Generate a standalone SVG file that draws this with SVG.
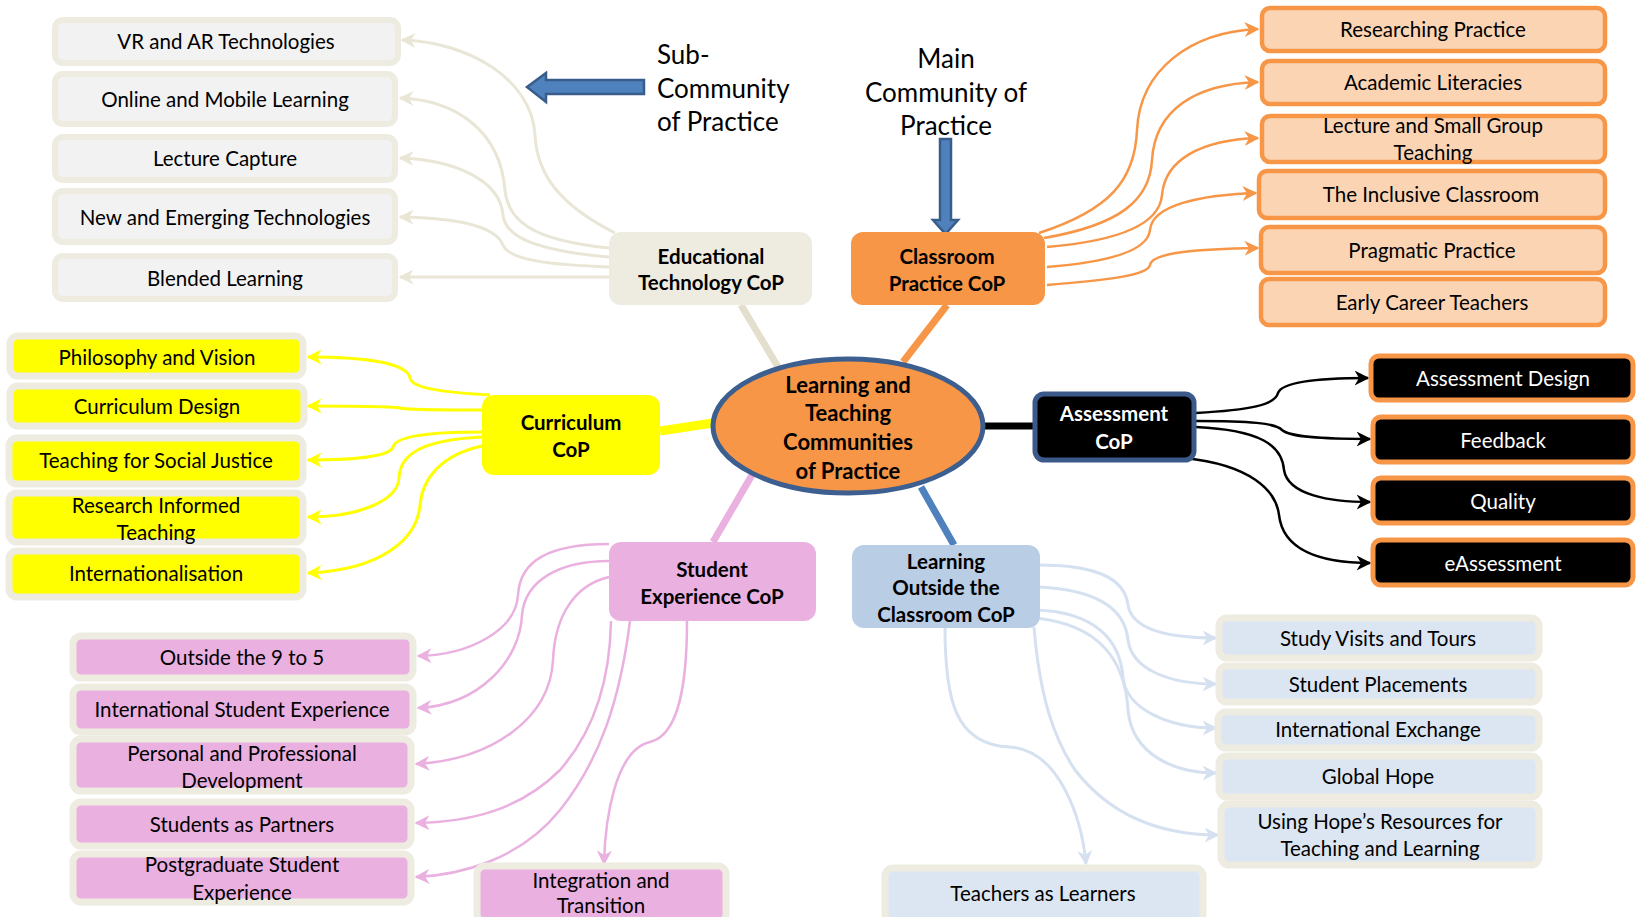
<svg xmlns="http://www.w3.org/2000/svg" width="1637" height="917" viewBox="0 0 1637 917">
<defs>
<style>
text{font-family:Lato,"Liberation Sans",sans-serif;text-anchor:middle;dominant-baseline:central;fill:#000}
.c{font-size:20.5px}
.b{font-size:20.5px;font-weight:bold}
.bc{font-size:22px;font-weight:bold}
.w{fill:#fff}
.big{font-size:26px}
.gbox{fill:#f2f2f2;stroke:#eeece1;stroke-width:6}
.obox{fill:#fbd4b4;stroke:#f79646;stroke-width:4.5}
.ybox{fill:#ffff00;stroke:#eeece1;stroke-width:7}
.pbox{fill:#eab0e0;stroke:#eeece1;stroke-width:7}
.lbox{fill:#dce6f2;stroke:#eeece1;stroke-width:7}
.abox{fill:#000;stroke:#f79646;stroke-width:5}
.cn{fill:none}
.eg{stroke:#e9e6d6;stroke-width:3}
.eo{stroke:#f79646;stroke-width:2.5}
.ek{stroke:#000;stroke-width:2.5}
.ey{stroke:#ffff00;stroke-width:3}
.ep{stroke:#eab0e0;stroke-width:2.5}
.el{stroke:#d5e1f0;stroke-width:3}
</style>
<marker id="mg" viewBox="0 0 10 10" refX="9" refY="5" markerUnits="userSpaceOnUse" markerWidth="15" markerHeight="15" orient="auto"><path d="M0,0 L10,5 L0,10 L3,5 z" fill="#e9e6d6"/></marker>
<marker id="mo" viewBox="0 0 10 10" refX="9" refY="5" markerUnits="userSpaceOnUse" markerWidth="15" markerHeight="15" orient="auto"><path d="M0,0 L10,5 L0,10 L3,5 z" fill="#f79646"/></marker>
<marker id="mk" viewBox="0 0 10 10" refX="9" refY="5" markerUnits="userSpaceOnUse" markerWidth="15" markerHeight="15" orient="auto"><path d="M0,0 L10,5 L0,10 L3,5 z" fill="#000"/></marker>
<marker id="my" viewBox="0 0 10 10" refX="9" refY="5" markerUnits="userSpaceOnUse" markerWidth="15" markerHeight="15" orient="auto"><path d="M0,0 L10,5 L0,10 L3,5 z" fill="#ffff00"/></marker>
<marker id="mp" viewBox="0 0 10 10" refX="9" refY="5" markerUnits="userSpaceOnUse" markerWidth="15" markerHeight="15" orient="auto"><path d="M0,0 L10,5 L0,10 L3,5 z" fill="#eab0e0"/></marker>
<marker id="ml" viewBox="0 0 10 10" refX="9" refY="5" markerUnits="userSpaceOnUse" markerWidth="15" markerHeight="15" orient="auto"><path d="M0,0 L10,5 L0,10 L3,5 z" fill="#d5e1f0"/></marker>
</defs>
<rect width="1637" height="917" fill="#fff"/>

<g id="connectors">
<!-- spokes -->
<path d="M778 367 L741 305" stroke="#e3dfcc" stroke-width="7"/>
<path d="M903 362 L947 305" stroke="#f79646" stroke-width="7"/>
<path d="M660 431 L713 423" stroke="#ffff00" stroke-width="9"/>
<path d="M983 426 L1034 426" stroke="#000" stroke-width="7"/>
<path d="M752 475 L713 542" stroke="#eab0e0" stroke-width="7"/>
<path d="M921 487 L954 545" stroke="#4f81bd" stroke-width="7"/>
<!-- educational technology -->
<path class="cn eg" marker-end="url(#mg)" d="M615 233 C560 205 537 175 535 135 C532 80 470 42 402 40"/>
<path class="cn eg" marker-end="url(#mg)" d="M609 248 C530 240 508 220 505 190 C500 130 455 100 400 98"/>
<path class="cn eg" marker-end="url(#mg)" d="M609 257 C530 250 505 235 503 215 C500 180 455 160 400 158"/>
<path class="cn eg" marker-end="url(#mg)" d="M609 267 C560 265 510 262 503 245 C495 225 455 218 400 217"/>
<path class="cn eg" marker-end="url(#mg)" d="M609 277 L400 277"/>
<!-- classroom -->
<path class="cn eo" marker-end="url(#mo)" d="M1039 233 C1110 210 1135 180 1137 130 C1140 70 1190 32 1258 29"/>
<path class="cn eo" marker-end="url(#mo)" d="M1044 238 C1120 225 1150 200 1152 160 C1155 110 1195 84 1258 82"/>
<path class="cn eo" marker-end="url(#mo)" d="M1047 247 C1130 240 1160 220 1162 195 C1165 160 1200 140 1258 138"/>
<path class="cn eo" marker-end="url(#mo)" d="M1047 267 C1110 262 1148 250 1150 230 C1152 205 1200 195 1256 193"/>
<path class="cn eo" marker-end="url(#mo)" d="M1047 285 C1110 280 1148 275 1150 265 C1152 252 1200 249 1258 248"/>
<!-- assessment -->
<path class="cn ek" marker-end="url(#mk)" d="M1196 413 C1250 410 1275 405 1278 393 C1282 382 1320 378 1368 378"/>
<path class="cn ek" marker-end="url(#mk)" d="M1196 421 C1250 421 1275 423 1282 430 C1290 437 1320 439 1370 439"/>
<path class="cn ek" marker-end="url(#mk)" d="M1196 427 C1260 430 1282 445 1284 470 C1288 495 1330 502 1370 502"/>
<path class="cn ek" marker-end="url(#mk)" d="M1185 458 C1250 465 1276 490 1279 515 C1283 550 1320 563 1370 563"/>
<!-- curriculum -->
<path class="cn ey" marker-end="url(#my)" d="M490 395 C440 392 412 388 410 378 C407 362 360 357 308 357"/>
<path class="cn ey" marker-end="url(#my)" d="M482 410 C440 410 408 410 400 408 C390 406 360 406 308 406"/>
<path class="cn ey" marker-end="url(#my)" d="M482 432 C420 432 395 438 393 447 C390 457 350 460 308 460"/>
<path class="cn ey" marker-end="url(#my)" d="M482 437 C420 440 400 455 399 478 C398 500 360 517 308 517"/>
<path class="cn ey" marker-end="url(#my)" d="M482 446 C440 455 422 480 420 505 C417 540 380 570 308 573"/>
<!-- student experience -->
<path class="cn ep" marker-end="url(#mp)" d="M609 544 C550 544 520 560 518 595 C516 630 470 655 418 656"/>
<path class="cn ep" marker-end="url(#mp)" d="M609 561 C560 561 525 580 522 615 C520 660 480 705 418 708"/>
<path class="cn ep" marker-end="url(#mp)" d="M609 577 C575 585 555 615 553 660 C550 720 490 760 416 764"/>
<path class="cn ep" marker-end="url(#mp)" d="M611 621 C610 680 595 730 560 770 C520 810 470 822 416 823"/>
<path class="cn ep" marker-end="url(#mp)" d="M630 621 C620 700 600 760 560 810 C520 860 460 875 416 877"/>
<path class="cn ep" marker-end="url(#mp)" d="M687 621 C687 680 680 735 650 742 C615 750 605 820 604 864"/>
<!-- learning outside the classroom -->
<path class="cn el" marker-end="url(#ml)" d="M1039 565 C1100 565 1125 580 1128 605 C1132 630 1170 638 1216 638"/>
<path class="cn el" marker-end="url(#ml)" d="M1039 587 C1100 590 1125 610 1128 640 C1132 670 1170 684 1216 684"/>
<path class="cn el" marker-end="url(#ml)" d="M1036 610 C1095 612 1120 640 1123 677 C1126 710 1170 728 1216 728"/>
<path class="cn el" marker-end="url(#ml)" d="M1036 618 C1100 625 1125 660 1128 710 C1132 755 1175 773 1216 773"/>
<path class="cn el" marker-end="url(#ml)" d="M1034 627 C1040 700 1055 740 1075 770 C1110 815 1160 835 1218 835"/>
<path class="cn el" marker-end="url(#ml)" d="M945 627 C945 700 955 745 1010 747 C1060 750 1082 820 1086 864"/>
</g>

<!-- annotations -->
<g id="sub-label">
<path d="M527 87 L546 73 L546 80 L644 80 L644 94 L546 94 L546 102 Z" fill="#4f81bd" stroke="#385d8a" stroke-width="2.5"/>
<text class="big" x="657" y="54" style="text-anchor:start">Sub-</text>
<text class="big" x="657" y="88" style="text-anchor:start">Community</text>
<text class="big" x="657" y="121" style="text-anchor:start">of Practice</text>
</g>
<g id="main-label">
<text class="big" x="946" y="58">Main</text>
<text class="big" x="946" y="92">Community of</text>
<text class="big" x="946" y="125">Practice</text>
<path d="M940 139 L951 139 L951 220 L958 220 L945.5 234 L933 220 L940 220 Z" fill="#4f81bd" stroke="#385d8a" stroke-width="2.5"/>
</g>

<g id="center">
<ellipse cx="848" cy="426" rx="135" ry="67" fill="#f79646" stroke="#3d5f8f" stroke-width="5"/>
<text class="bc" x="848" y="384">Learning and</text>
<text class="bc" x="848" y="412">Teaching</text>
<text class="bc" x="848" y="441">Communities</text>
<text class="bc" x="848" y="470">of Practice</text>
</g>

<g id="edtech-cop">
<rect x="609" y="232" width="203" height="73" rx="12" fill="#eeece1"/>
<text class="b" x="711" y="256">Educational</text>
<text class="b" x="711" y="282">Technology CoP</text>
</g>
<g id="classroom-cop">
<rect x="851" y="232" width="194" height="73" rx="12" fill="#f79646"/>
<text class="b" x="947" y="256">Classroom</text>
<text class="b" x="947" y="283">Practice CoP</text>
</g>
<g id="curriculum-cop">
<rect x="482" y="395" width="178" height="80" rx="12" fill="#ffff00"/>
<text class="b" x="571" y="422">Curriculum</text>
<text class="b" x="571" y="449">CoP</text>
</g>
<g id="assessment-cop">
<rect x="1035" y="394" width="159" height="66" rx="9" fill="#000" stroke="#3b5a8a" stroke-width="5"/>
<text class="b w" x="1114" y="413">Assessment</text>
<text class="b w" x="1114" y="441">CoP</text>
</g>
<g id="student-cop">
<rect x="609" y="542" width="207" height="79" rx="12" fill="#eab0e0"/>
<text class="b" x="712" y="569">Student</text>
<text class="b" x="712" y="596">Experience CoP</text>
</g>
<g id="loc-cop">
<rect x="852" y="545" width="188" height="83" rx="12" fill="#b9cde5"/>
<text class="b" x="946" y="561">Learning</text>
<text class="b" x="946" y="587">Outside the</text>
<text class="b" x="946" y="614">Classroom CoP</text>
</g>

<!-- educational technology children -->
<g id="vr"><rect class="gbox" x="55" y="20" width="343" height="43" rx="8"/><text class="c" x="226" y="41">VR and AR Technologies</text></g>
<g id="online"><rect class="gbox" x="55" y="74" width="340" height="50" rx="8"/><text class="c" x="225" y="99">Online and Mobile Learning</text></g>
<g id="lecture-capture"><rect class="gbox" x="55" y="137" width="340" height="43" rx="8"/><text class="c" x="225" y="158">Lecture Capture</text></g>
<g id="new-emerging"><rect class="gbox" x="55" y="191" width="340" height="51" rx="8"/><text class="c" x="225" y="217">New and Emerging Technologies</text></g>
<g id="blended"><rect class="gbox" x="55" y="256" width="340" height="43" rx="8"/><text class="c" x="225" y="278">Blended Learning</text></g>

<!-- classroom children -->
<g id="researching"><rect class="obox" x="1262" y="8" width="343" height="43" rx="8"/><text class="c" x="1433" y="29">Researching Practice</text></g>
<g id="academic"><rect class="obox" x="1262" y="61" width="343" height="43" rx="8"/><text class="c" x="1433" y="82">Academic Literacies</text></g>
<g id="lecture-small"><rect class="obox" x="1262" y="116" width="343" height="46" rx="8"/><text class="c" x="1433" y="125">Lecture and Small Group</text><text class="c" x="1433" y="152">Teaching</text></g>
<g id="inclusive"><rect class="obox" x="1259" y="171" width="346" height="47" rx="8"/><text class="c" x="1431" y="194">The Inclusive Classroom</text></g>
<g id="pragmatic"><rect class="obox" x="1261" y="227" width="344" height="46" rx="8"/><text class="c" x="1432" y="250">Pragmatic Practice</text></g>
<g id="early-career"><rect class="obox" x="1261" y="279" width="344" height="46" rx="8"/><text class="c" x="1432" y="302">Early Career Teachers</text></g>

<!-- curriculum children -->
<g id="philosophy"><rect class="ybox" x="10" y="336" width="293" height="40" rx="8"/><text class="c" x="157" y="357">Philosophy and Vision</text></g>
<g id="curriculum-design"><rect class="ybox" x="10" y="386" width="294" height="40" rx="8"/><text class="c" x="157" y="406">Curriculum Design</text></g>
<g id="social-justice"><rect class="ybox" x="9" y="438" width="294" height="46" rx="8"/><text class="c" x="156" y="460">Teaching for Social Justice</text></g>
<g id="research-informed"><rect class="ybox" x="9" y="493" width="294" height="49" rx="8"/><text class="c" x="156" y="505">Research Informed</text><text class="c" x="156" y="532">Teaching</text></g>
<g id="internationalisation"><rect class="ybox" x="9" y="551" width="294" height="46" rx="8"/><text class="c" x="156" y="573">Internationalisation</text></g>

<!-- assessment children -->
<g id="assessment-design"><rect class="abox" x="1371" y="356" width="262" height="44" rx="8"/><text class="c w" x="1503" y="378">Assessment Design</text></g>
<g id="feedback"><rect class="abox" x="1373" y="417" width="260" height="45" rx="8"/><text class="c w" x="1503" y="440">Feedback</text></g>
<g id="quality"><rect class="abox" x="1373" y="478" width="260" height="45" rx="8"/><text class="c w" x="1503" y="501">Quality</text></g>
<g id="eassessment"><rect class="abox" x="1373" y="540" width="260" height="45" rx="8"/><text class="c w" x="1503" y="563">eAssessment</text></g>

<!-- student experience children -->
<g id="outside-9-5"><rect class="pbox" x="73" y="636" width="340" height="42" rx="8"/><text class="c" x="242" y="657">Outside the 9 to 5</text></g>
<g id="international-student"><rect class="pbox" x="73" y="687" width="340" height="45" rx="8"/><text class="c" x="242" y="709">International Student Experience</text></g>
<g id="personal-professional"><rect class="pbox" x="73" y="739" width="338" height="52" rx="8"/><text class="c" x="242" y="753">Personal and Professional</text><text class="c" x="242" y="780">Development</text></g>
<g id="partners"><rect class="pbox" x="73" y="802" width="338" height="44" rx="8"/><text class="c" x="242" y="824">Students as Partners</text></g>
<g id="postgraduate"><rect class="pbox" x="73" y="854" width="338" height="48" rx="8"/><text class="c" x="242" y="864">Postgraduate Student</text><text class="c" x="242" y="892">Experience</text></g>
<g id="integration"><rect class="pbox" x="477" y="866" width="249" height="56" rx="8"/><text class="c" x="601" y="880">Integration and</text><text class="c" x="601" y="905">Transition</text></g>

<!-- learning outside the classroom children -->
<g id="study-visits"><rect class="lbox" x="1219" y="618" width="320" height="40" rx="8"/><text class="c" x="1378" y="638">Study Visits and Tours</text></g>
<g id="placements"><rect class="lbox" x="1219" y="666" width="320" height="36" rx="8"/><text class="c" x="1378" y="684">Student Placements</text></g>
<g id="exchange"><rect class="lbox" x="1218" y="712" width="321" height="36" rx="8"/><text class="c" x="1378" y="729">International Exchange</text></g>
<g id="global-hope"><rect class="lbox" x="1219" y="756" width="320" height="41" rx="8"/><text class="c" x="1378" y="776">Global Hope</text></g>
<g id="hopes-resources"><rect class="lbox" x="1221" y="804" width="318" height="61" rx="8"/><text class="c" x="1380" y="821">Using Hope’s Resources for</text><text class="c" x="1380" y="848">Teaching and Learning</text></g>
<g id="teachers-learners"><rect class="lbox" x="885" y="868" width="318" height="54" rx="8"/><text class="c" x="1043" y="893">Teachers as Learners</text></g>
</svg>
